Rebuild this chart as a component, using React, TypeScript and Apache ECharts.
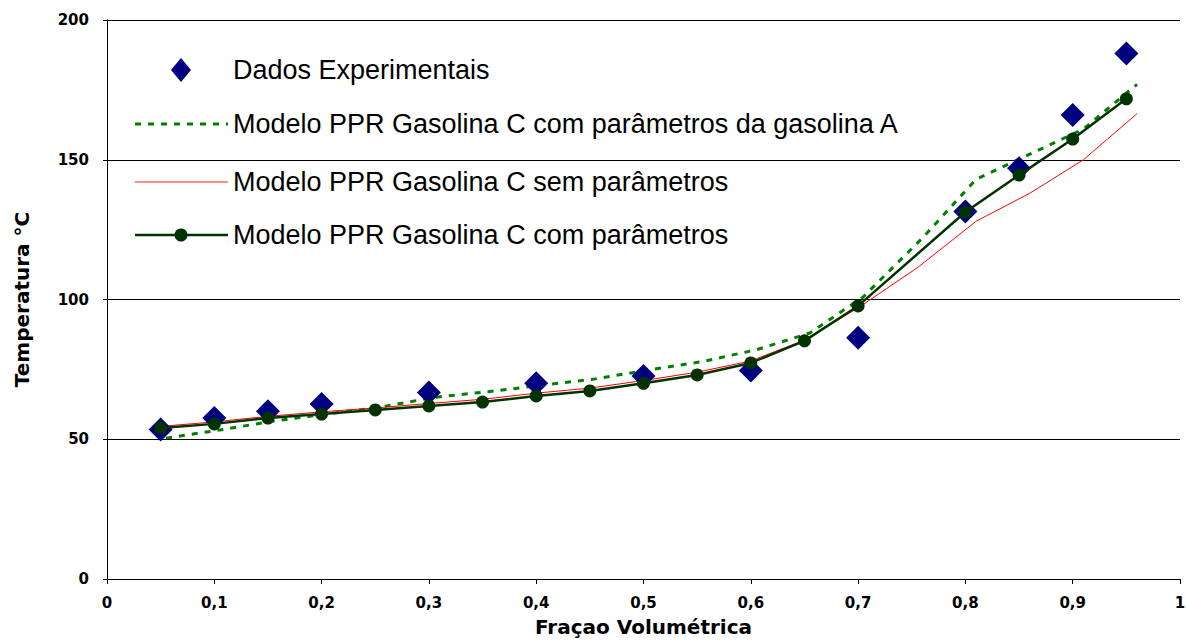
import React, { useEffect, useRef } from "react";
import * as echarts from "echarts";

const xTicksInterval = 0.1;
const yTicksInterval = 50;

const expX = [0.05, 0.1, 0.15, 0.2, 0.3, 0.4, 0.5, 0.6, 0.7, 0.8, 0.85, 0.9, 0.95];
const expY = [53.5, 57.6, 60, 62.6, 66.7, 70, 72.6, 74.6, 86.3, 131.5, 147, 166, 188];

const comX = [0.05, 0.1, 0.15, 0.2, 0.25, 0.3, 0.35, 0.4, 0.45, 0.5, 0.55, 0.6, 0.65, 0.7, 0.8, 0.85, 0.9, 0.95];
const comY = [54, 55.5, 57.6, 59, 60.5, 61.9, 63.3, 65.5, 67.3, 70, 73, 77.3, 85.2, 97.7, 131.3, 144.5, 157.4, 171.8];

const semX = [0.05, 0.1, 0.15, 0.2, 0.25, 0.3, 0.35, 0.4, 0.45, 0.5, 0.55, 0.6, 0.65, 0.7, 0.755, 0.81, 0.86, 0.91, 0.96];
const semY = [54.6, 56.2, 58.2, 59.8, 61.2, 62.8, 64.3, 66.5, 68.3, 71, 74, 78, 85.5, 97, 111.3, 128, 138, 150, 166.5];

const gasAX = [0.055, 0.105, 0.155, 0.205, 0.255, 0.305, 0.355, 0.405, 0.455, 0.505, 0.555, 0.605, 0.655, 0.705, 0.76, 0.81, 0.86, 0.91, 0.96];
const gasAY = [50.4, 53.3, 56.5, 59, 61.5, 65, 67, 69.3, 71.6, 74.8, 77.8, 82, 88, 101, 122, 143, 152, 161, 177];

const names = [
  "Dados Experimentais",
  "Modelo PPR Gasolina C com parâmetros da gasolina A",
  "Modelo PPR Gasolina C sem parâmetros",
  "Modelo PPR Gasolina C com parâmetros",
];

const colors = {
  exp: "#000080",
  gasA: "#008000",
  sem: "#ff0000",
  com: "#003300",
};

const zip = (xs: number[], ys: number[]) => xs.map((x, i) => [x, ys[i]]);

export default function App() {
  const ref = useRef<HTMLDivElement>(null);
  useEffect(() => {
    if (!ref.current) return;
    const chart = echarts.init(ref.current, undefined, { renderer: "svg" });
    const axisFont = {
      fontFamily: "DejaVu Sans",
      fontWeight: "bold" as const,
      fontSize: 15,
      color: "#000",
    };
    const titleFont = {
      fontFamily: "DejaVu Sans",
      fontWeight: "bold" as const,
      fontSize: 20,
      color: "#000",
    };
    const legendText = {
      fontFamily: "Liberation Sans",
      fontSize: 27,
      fill: "#000",
      verticalAlign: "middle" as const,
    };
    const rowY = [29, 83, 141, 194];
    const iconL = 5;
    const iconR = 98;
    const iconC = 51;
    const textX = 103;
    chart.setOption({
      animation: false,
      backgroundColor: "#fff",
      grid: {
        left: 107,
        right: 6,
        top: 20,
        bottom: 61,
        containLabel: false,
        outerBoundsMode: "none",
      },
      xAxis: {
        type: "value",
        min: 0,
        max: 1,
        interval: xTicksInterval,
        name: "Fraçao Volumétrica",
        nameLocation: "middle",
        nameGap: 38,
        nameTextStyle: titleFont,
        axisLine: { show: true, lineStyle: { color: "#000", width: 1 } },
        axisTick: { show: true, length: 5, lineStyle: { color: "#000" } },
        axisLabel: {
          ...axisFont,
          margin: 16,
          formatter: (v: number) => String(Math.round(v * 10) / 10).replace(".", ","),
        },
        splitLine: { show: false },
      },
      yAxis: {
        type: "value",
        min: 0,
        max: 200,
        interval: yTicksInterval,
        name: "Temperatura °C",
        nameLocation: "middle",
        nameGap: 75,
        nameRotate: 90,
        nameTextStyle: titleFont,
        axisLine: { show: true, lineStyle: { color: "#000", width: 1 } },
        axisTick: { show: true, length: 4, lineStyle: { color: "#000" } },
        axisLabel: { ...axisFont, margin: 18 },
        splitLine: { show: true, lineStyle: { color: "#000", width: 1 } },
      },
      graphic: [
        {
          type: "group",
          x: 130,
          y: 41,
          z: 100,
          children: [
            {
              type: "rect",
              shape: { x: 0, y: 0, width: 775, height: 222 },
              style: { fill: "#fff" },
            },
            {
              type: "polygon",
              shape: {
                points: [
                  [iconC, rowY[0] - 12],
                  [iconC + 10, rowY[0]],
                  [iconC, rowY[0] + 12],
                  [iconC - 10, rowY[0]],
                ],
              },
              style: { fill: colors.exp },
            },
            {
              type: "text",
              x: textX,
              y: rowY[0],
              style: { ...legendText, text: names[0] },
            },
            {
              type: "line",
              shape: { x1: iconL, y1: rowY[1], x2: iconR, y2: rowY[1] },
              style: { stroke: colors.gasA, lineWidth: 3, lineDash: [6, 7] },
            },
            {
              type: "text",
              x: textX,
              y: rowY[1],
              style: { ...legendText, text: names[1] },
            },
            {
              type: "line",
              shape: { x1: iconL, y1: rowY[2], x2: iconR, y2: rowY[2] },
              style: { stroke: "#ff6a6a", lineWidth: 1.5 },
            },
            {
              type: "text",
              x: textX,
              y: rowY[2],
              style: { ...legendText, text: names[2] },
            },
            {
              type: "line",
              shape: { x1: iconL, y1: rowY[3], x2: iconR, y2: rowY[3] },
              style: { stroke: colors.com, lineWidth: 2.5 },
            },
            {
              type: "circle",
              shape: { cx: iconC, cy: rowY[3], r: 6.5 },
              style: { fill: colors.com },
            },
            {
              type: "text",
              x: textX,
              y: rowY[3],
              style: { ...legendText, text: names[3] },
            },
          ],
        },
      ],
      series: [
        {
          name: names[1],
          type: "line",
          data: zip(gasAX, gasAY),
          symbol: "none",
          z: 2,
          lineStyle: { color: colors.gasA, width: 3, type: [6, 7] },
          itemStyle: { color: colors.gasA },
        },
        {
          name: names[2],
          type: "line",
          data: zip(semX, semY),
          symbol: "none",
          z: 3,
          lineStyle: { color: colors.sem, width: 1 },
          itemStyle: { color: colors.sem },
        },
        {
          name: names[0],
          type: "scatter",
          data: zip(expX, expY),
          symbol: "diamond",
          symbolSize: 24,
          z: 4,
          itemStyle: { color: colors.exp, opacity: 1 },
        },
        {
          name: names[3],
          type: "line",
          data: zip(comX, comY),
          symbol: "circle",
          symbolSize: 13,
          z: 5,
          lineStyle: { color: colors.com, width: 2.5 },
          itemStyle: { color: colors.com },
        },
      ],
    });
    return () => chart.dispose();
  }, []);
  return (
    <div
      ref={ref}
      style={{ position: "absolute", left: 0, top: 0, width: 1186, height: 640 }}
    />
  );
}
